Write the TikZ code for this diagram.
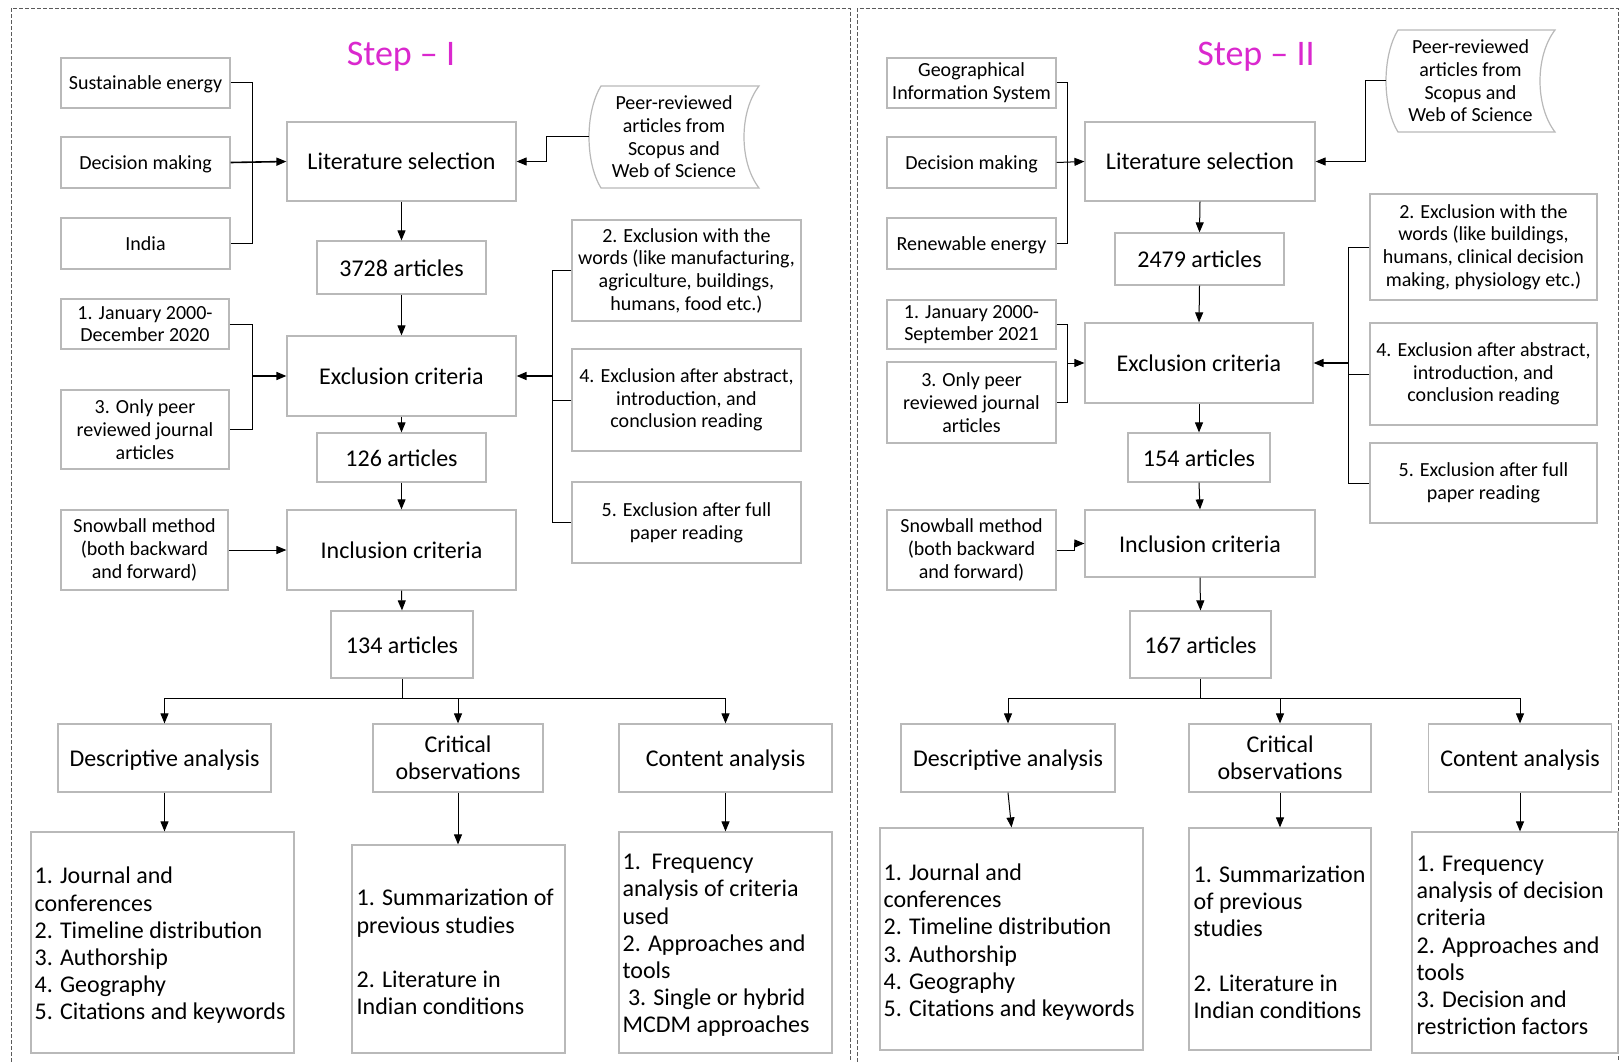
\documentclass[tikz,border=0pt]{standalone}
\usepackage{fontspec}
\setmainfont{Carlito}
\usetikzlibrary{arrows.meta,calc}
\definecolor{boxline}{RGB}{185,185,185}
\definecolor{frameline}{RGB}{90,90,90}
\definecolor{titlepink}{RGB}{218,40,206}
\newcommand\fsBig{\fontsize{24}{27.2}\selectfont}
\newcommand\fsSmall{\fontsize{20}{22.7}\selectfont}
\newcommand\fsTitle{\fontsize{36}{40}\selectfont}
\begin{document}
\begin{tikzpicture}[x=1pt,y=-1pt,
  wh/.style 2 args={minimum width=#1pt, minimum height=#2pt},
  box/.style={draw=boxline, line width=1.2pt, fill=white, inner sep=2pt, align=center},
  sbox/.style={box, font=\fsSmall},
  bbox/.style={box, font=\fsBig},
  oneline/.style={text height=17pt, text depth=0pt},
  soneline/.style={text height=14pt, text depth=0pt},
  listtxt/.style={anchor=west, align=left, inner sep=0pt, font=\fsBig},
  docshape/.style={draw=boxline, line width=1.2pt},
  conn/.style={draw=black, line width=1pt},
  conarr/.style={conn, -{Triangle[length=10pt,width=8pt]}},
  boldarr/.style={conarr, line width=1.6pt},
  panelframe/.style={draw=frameline, line width=1pt, dash pattern=on 4pt off 2pt},
  titletxt/.style={font=\fsTitle, text=titlepink, inner sep=0pt, text height=24pt, text depth=0pt}]
\useasboundingbox (0,0) rectangle (1620,1062);
\fill[white] (0,0) rectangle (1620,1062);

% dashed panels, open at the bottom
\draw[panelframe] (11,1062) -- (11,8.5) -- (850,8.5) -- (850,1062);
\draw[panelframe] (857,1062) -- (857,8.5) -- (1618,8.5) -- (1618,1062);

% ================= Step I =================
\node[titletxt] (t1) at (401,54) {Step – I};

\node[sbox, soneline, wh={169}{50}] (se1) at (145.5,83) {Sustainable energy};
\node[sbox, soneline, wh={169}{51}] (dm1) at (145.5,162.5) {Decision making};
\node[sbox, soneline, wh={169}{51}] (in1) at (145.5,243.5) {India};
\node[bbox, oneline, wh={229}{79}] (ls1) at (401.5,161.5) {Literature selection};
\node[font=\fsSmall, align=center, inner sep=0pt, wh={170}{102}] (db1) at (674,137)
  {Peer-reviewed\\articles from\\Scopus and\\Web of Science};
\draw[docshape, shift={(db1.center)}] (-73,-51) .. controls (-89,-25) and (-89,25) .. (-73,51)
  -- (85,51) .. controls (65,25) and (65,-25) .. (85,-51) -- cycle;
\node[bbox, oneline, wh={169}{53}] (n3728) at (401.5,267.5) {3728 articles};
\node[bbox, oneline, wh={229}{80}] (ex1) at (401.5,376) {Exclusion criteria};
\node[sbox, wh={168}{50}] (jan1) at (145,324) {1. January 2000-\\December 2020};
\node[sbox, wh={168}{79}] (peer1) at (145,429.5) {3. Only peer\\reviewed journal\\articles};
\node[sbox, wh={229}{101}] (ew1) at (686.5,270.5)
  {2. Exclusion with the\\words (like manufacturing,\\agriculture, buildings,\\humans, food etc.)};
\node[sbox, wh={229}{102}] (ea1) at (686.5,400) {4. Exclusion after abstract,\\introduction, and\\conclusion reading};
\node[sbox, wh={229}{81}] (ef1) at (686.5,522.5) {5. Exclusion after full\\paper reading};
\node[bbox, oneline, wh={169}{49}] (n126) at (401.5,457.5) {126 articles};
\node[bbox, oneline, wh={229}{80}] (ic1) at (401.5,550) {Inclusion criteria};
\node[sbox, wh={167}{80}] (sb1) at (144.5,550) {Snowball method\\(both backward\\and forward)};
\node[bbox, oneline, wh={142}{67}] (n134) at (402,644.5) {134 articles};
\node[bbox, oneline, wh={213}{68}] (da1) at (164.5,758) {Descriptive analysis};
\node[bbox, wh={170}{68}] (co1) at (458,758) {Critical\\observations};
\node[bbox, oneline, wh={213}{68}] (ca1) at (725.5,758) {Content analysis};
\node[box, wh={263}{221}] (dl1) at (162.5,942.5) {};
\node[box, wh={213}{208}] (cl1) at (458.5,949) {};
\node[box, wh={213}{221}] (tl1) at (725.5,942.5) {};
\node[listtxt] (dlt1) at ([xshift=4pt,yshift=-3pt]dl1.west)
  {1. Journal and\\conferences\\2. Timeline distribution\\3. Authorship\\4. Geography\\5. Citations and keywords};
\node[listtxt] (clt1) at ([xshift=5pt,yshift=-3pt]cl1.west)
  {1. Summarization of\\previous studies\\[27.2pt]2. Literature in\\Indian conditions};
\node[listtxt] (tlt1) at ([xshift=4pt,yshift=-3pt]tl1.west)
  {1.~~Frequency\\analysis of criteria\\used\\2. Approaches and\\tools\\~3. Single or hybrid\\MCDM approaches};

% connectors, Step I
\coordinate (bA) at (252,0);
\coordinate (bD) at (546,0);
\coordinate (bC) at (552,0);
\coordinate (tA) at (0,698);
\draw[conn] (se1.east) -| (bA |- in1.east) -- (in1.east);
\draw[boldarr] (dm1.east) -- (ls1.west);
\draw[conarr] (db1.west) -- (bD |- db1.west) |- (ls1.east);
\draw[conarr] (ls1.south) -- (n3728.north);
\draw[conarr] (n3728.south) -- (ex1.north);
\draw[conn] (jan1.east) -| (bA |- peer1.east) -- (peer1.east);
\draw[boldarr] (bA |- ex1.west) -- (ex1.west);
\draw[conn] (ew1.west) -| (bC |- ef1.west) -- (ef1.west);
\draw[conn] (ea1.west) -- (bC |- ea1.west);
\draw[boldarr] (bC |- ex1.east) -- (ex1.east);
\draw[conarr] (ex1.south) -- (n126.north);
\draw[conarr] (n126.south) -- (ic1.north);
\draw[conarr] (sb1.east) -- (ic1.west);
\draw[conarr] (ic1.south) -- (n134.north);
\draw[conn] (n134.south) -- (n134.south |- tA);
\draw[conn] (da1.north |- tA) -- (ca1.north |- tA);
\foreach \n in {da1,co1,ca1} \draw[conarr] (\n.north |- tA) -- (\n.north);
\draw[conarr] (da1.south) -- (da1.south |- dl1.north);
\draw[conarr] (co1.south) -- (co1.south |- cl1.north);
\draw[conarr] (ca1.south) -- (ca1.south |- tl1.north);

% ================= Step II =================
\node[titletxt] (t2) at (1256,54) {Step – II};

\node[sbox, wh={169}{50}] (gis2) at (971.5,83) {Geographical\\Information System};
\node[sbox, soneline, wh={169}{51}] (dm2) at (971.5,162.5) {Decision making};
\node[sbox, soneline, wh={169}{51}] (re2) at (971.5,243.5) {Renewable energy};
\node[bbox, oneline, wh={230}{79}] (ls2) at (1200,161.5) {Literature selection};
\node[font=\fsSmall, align=center, inner sep=0pt, wh={169}{102}] (db2) at (1470.5,81)
  {Peer-reviewed\\articles from\\Scopus and\\Web of Science};
\draw[docshape, shift={(db2.center)}] (-72.5,-51) .. controls (-88.5,-25) and (-88.5,25) .. (-72.5,51)
  -- (84.5,51) .. controls (64.5,25) and (64.5,-25) .. (84.5,-51) -- cycle;
\node[bbox, oneline, wh={169}{52}] (n2479) at (1199.5,259) {2479 articles};
\node[bbox, oneline, wh={228}{80}] (ex2) at (1199,363) {Exclusion criteria};
\node[sbox, wh={169}{49}] (jan2) at (971.5,324.5) {1. January 2000-\\September 2021};
\node[sbox, wh={169}{81}] (peer2) at (971.5,402.5) {3. Only peer\\reviewed journal\\articles};
\node[sbox, wh={227}{106}] (ew2) at (1483.5,247)
  {2. Exclusion with the\\words (like buildings,\\humans, clinical decision\\making, physiology etc.)};
\node[sbox, wh={227}{102}] (ea2) at (1483.5,374) {4. Exclusion after abstract,\\introduction, and\\conclusion reading};
\node[sbox, wh={227}{80}] (ef2) at (1483.5,483) {5. Exclusion after full\\paper reading};
\node[bbox, oneline, wh={142}{49}] (n154) at (1199,457.5) {154 articles};
\node[bbox, oneline, wh={230}{67}] (ic2) at (1200,543.5) {Inclusion criteria};
\node[sbox, wh={169}{80}] (sb2) at (971.5,550) {Snowball method\\(both backward\\and forward)};
\node[bbox, oneline, wh={141}{67}] (n167) at (1200.5,644.5) {167 articles};
\node[bbox, oneline, wh={214}{68}] (da2) at (1008,758) {Descriptive analysis};
\node[bbox, wh={182}{68}] (co2) at (1280,758) {Critical\\observations};
\node[bbox, oneline, wh={183}{68}] (ca2) at (1520,758) {Content analysis};
\node[box, wh={263}{222}] (dl2) at (1011.5,939) {};
\node[box, wh={182}{222}] (cl2) at (1280,939) {};
\node[box, wh={206}{221}] (tl2) at (1515,942.5) {};
\node[listtxt] (dlt2) at ([xshift=4pt,yshift=-3pt]dl2.west)
  {1. Journal and\\conferences\\2. Timeline distribution\\3. Authorship\\4. Geography\\5. Citations and keywords};
\node[listtxt] (clt2) at ([xshift=5pt,yshift=-3pt]cl2.west)
  {1. Summarization\\of previous\\studies\\[27.2pt]2. Literature in\\Indian conditions};
\node[listtxt] (tlt2) at ([xshift=5pt,yshift=-3pt]tl2.west)
  {1. Frequency\\analysis of decision\\criteria\\2. Approaches and\\tools\\3. Decision and\\restriction factors};

% connectors, Step II
\coordinate (bE) at (1067,0);
\coordinate (bF) at (1365,0);
\coordinate (bG) at (1348,0);
\coordinate (bJ) at (1074,0);
\draw[conn] (gis2.east) -| (bE |- re2.east) -- (re2.east);
\draw[conarr] (dm2.east) -- (ls2.west);
\draw[conarr] (db2.west) -- (bF |- db2.west) |- (ls2.east);
\draw[conarr] (ls2.south) -- (n2479.north);
\draw[conarr] (n2479.south) -- (ex2.north);
\draw[conn] (jan2.east) -| (bE |- peer2.east) -- (peer2.east);
\draw[conarr] (bE |- ex2.west) -- (ex2.west);
\draw[conn] (ew2.west) -| (bG |- ef2.west) -- (ef2.west);
\draw[conn] (ea2.west) -- (bG |- ea2.west);
\draw[boldarr] (bG |- ex2.east) -- (ex2.east);
\draw[conarr] (ex2.south) -- (n154.north);
\draw[conarr] (n154.south) -- (ic2.north);
\draw[conarr] (sb2.east) -- (bJ |- sb2.east) -- (bJ |- ic2.west) -- (ic2.west);
\draw[conarr] (ic2.south) -- (n167.north);
\draw[conn] (n167.south) -- (n167.south |- tA);
\draw[conn] (da2.north |- tA) -- (ca2.north |- tA);
\foreach \n in {da2,co2,ca2} \draw[conarr] (\n.north |- tA) -- (\n.north);
\draw[conarr] (da2.south) -- (dl2.north);
\draw[conarr] (co2.south) -- (co2.south |- cl2.north);
\draw[conarr] (ca2.south) -- (ca2.south |- tl2.north);
\end{tikzpicture}
\end{document}
